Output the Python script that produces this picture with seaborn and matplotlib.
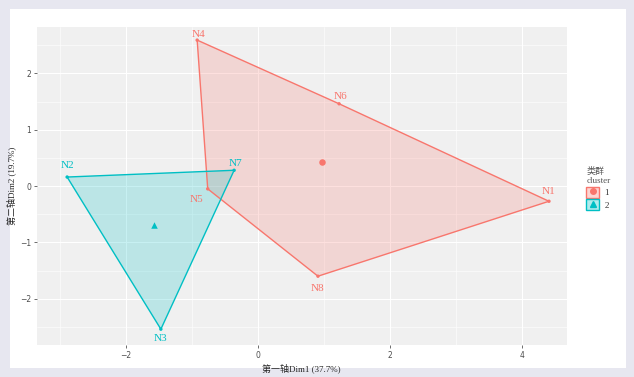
import matplotlib
matplotlib.use("Agg")
import matplotlib.pyplot as plt
import numpy as np
import pandas as pd
import seaborn as sns
from matplotlib.lines import Line2D
from matplotlib.patches import Patch, Rectangle
from matplotlib.legend_handler import HandlerTuple

names = ['N1', 'N2', 'N3', 'N4', 'N5', 'N6', 'N7', 'N8']
dim1 = [4.41, -2.89, -1.47, -0.92, -0.76, 1.23, -0.36, 0.91]
dim2 = [-0.27, 0.16, -2.54, 2.59, -0.05, 1.46, 0.28, -1.60]
cluster = ['1', '2', '2', '1', '1', '1', '2', '1']

hull_1 = ['N4', 'N6', 'N1', 'N8', 'N5']
hull_2 = ['N2', 'N7', 'N3']

x_title = '第一轴Dim1 (37.7%)'
y_title = '第二轴Dim2 (19.7%)'
legend_title = '类群\ncluster'

palette = {'1': '#F8766D', '2': '#00BFC4'}
markers = {'1': 'o', '2': '^'}
# label offsets in points (dx, dy), roughly where ggrepel put them
label_offset = {'N1': (0, 7), 'N2': (0, 8), 'N3': (0, -7), 'N4': (1, 4),
                'N5': (-8, -8), 'N6': (1, 5), 'N7': (1, 5), 'N8': (0, -9)}

df = pd.DataFrame({'name': names, 'Dim1': dim1, 'Dim2': dim2, 'cluster': cluster})

sns.set_theme(rc={
    'axes.facecolor': '#F0F0F0',
    'grid.color': 'white',
    'axes.edgecolor': '#F0F0F0',
    'xtick.color': '#4D4D4D',
    'ytick.color': '#4D4D4D',
})
plt.rcParams['font.family'] = ['Liberation Serif', 'Noto Sans CJK SC', 'DejaVu Sans']

fig = plt.figure(figsize=(6.34, 3.77), dpi=100, facecolor='#E7E7F0')
fig.patches.append(Rectangle((0.016, 0.024), 0.971, 0.952, transform=fig.transFigure,
                             facecolor='white', edgecolor='none', zorder=-10))
ax = fig.add_axes([0.058, 0.085, 0.836, 0.843])

for cl, hull in [('1', hull_1), ('2', hull_2)]:
    sub = df.set_index('name').loc[hull]
    ax.fill(sub['Dim1'], sub['Dim2'], facecolor=palette[cl], alpha=0.22,
            edgecolor='none', zorder=2)
    ax.fill(sub['Dim1'], sub['Dim2'], facecolor='none', edgecolor=palette[cl],
            linewidth=1.0, zorder=3)

sns.scatterplot(data=df, x='Dim1', y='Dim2', hue='cluster', palette=palette,
                s=6, linewidth=0, legend=False, ax=ax, zorder=4)

centers = df.groupby('cluster')[['Dim1', 'Dim2']].mean().reset_index()
for _, row in centers.iterrows():
    ax.scatter(row['Dim1'], row['Dim2'], marker=markers[row['cluster']],
               color=palette[row['cluster']], s=22, linewidths=0, zorder=5)

for _, row in df.iterrows():
    dx, dy = label_offset[row['name']]
    ax.annotate(row['name'], (row['Dim1'], row['Dim2']), xytext=(dx, dy),
                textcoords='offset points', ha='center', va='center',
                color=palette[row['cluster']], fontsize=8, zorder=6)

ax.set_xlim(-3.35, 4.68)
ax.set_ylim(-2.82, 2.82)
ax.set_xticks([-2, 0, 2, 4])
ax.set_yticks([-2, -1, 0, 1, 2])
ax.set_xticks([-3, -1, 1, 3], minor=True)
ax.set_yticks([-2.5, -1.5, -0.5, 0.5, 1.5, 2.5], minor=True)
ax.grid(which='major', color='white', linewidth=0.8)
ax.grid(which='minor', color='white', linewidth=0.4)
ax.tick_params(which='major', labelsize=5.5, length=2, width=0.5, color='#333333', pad=2,
               bottom=True, left=True)
ax.tick_params(which='minor', length=0)
for lab in ax.get_xticklabels() + ax.get_yticklabels():
    lab.set_family(['DejaVu Sans'])
ax.set_xlabel(x_title, fontsize=6.5, labelpad=3)
ax.set_ylabel(y_title, fontsize=6.5, labelpad=3)
for s in ax.spines.values():
    s.set_visible(False)

handles = []
for cl in ['1', '2']:
    handles.append((Patch(facecolor=palette[cl], alpha=0.3, edgecolor='none'),
                    Patch(facecolor='none', edgecolor=palette[cl], linewidth=1.0),
                    Line2D([], [], marker=markers[cl], color=palette[cl], linestyle='none',
                           markersize=4)))
leg = fig.legend(handles, ['1', '2'], title=legend_title, loc='center left',
                 bbox_to_anchor=(0.912, 0.5), frameon=False, fontsize=6.5,
                 title_fontsize=6.5, handler_map={tuple: HandlerTuple(ndivide=1, pad=0)},
                 handlelength=1.4, handleheight=1.4, handletextpad=0.6, labelspacing=0.2)
leg._legend_box.align = 'left'
for t in leg.get_texts():
    t.set_color('#333333')
leg.get_title().set_color('#555555')

fig.savefig('out.png', dpi=100, facecolor=fig.get_facecolor())
